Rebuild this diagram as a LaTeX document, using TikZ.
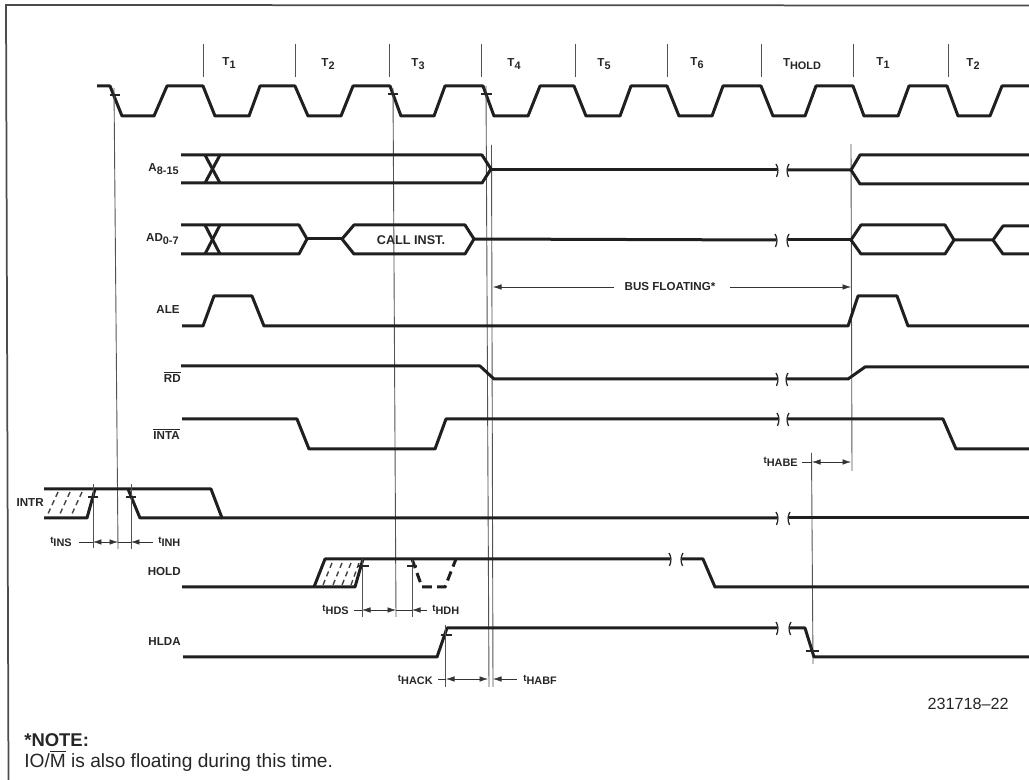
\documentclass[tikz,border=0pt]{standalone}
\usepackage{fontspec}
\setmainfont{Liberation Sans}
\usetikzlibrary{arrows.meta}
\def\breakmark(#1,#2){\draw[sigthin] (#1+1,#2-6) .. controls (#1-1.5,#2-2) and (#1-1.5,#2+2) .. (#1+0.5,#2+7);}
\def\breakleft(#1,#2){\draw[sigthin] (#1-1,#2-6) .. controls (#1+1.5,#2-2) and (#1+1.5,#2+2) .. (#1-0.5,#2+7);}
\def\lbsub#1#2{#1\raisebox{-1.6pt}{\fontsize{6.2}{7}\selectfont #2}}
\tikzset{
	sig/.style={line width=0.6mm, color=black!88, line join=round},
	sigdash/.style={line width=0.6mm, color=black!88, dash pattern=on 5.5pt off 3pt},
	sigthin/.style={line width=0.25mm, color=black!85},
	vline/.style={line width=0.18mm, color=black!68},
	hatch/.style={line width=0.28mm, color=black!75, dash pattern=on 3pt off 2.2pt},
	dim/.style={line width=0.12mm, color=black!80, {Latex[length=1.7mm,width=1.1mm]}-{Latex[length=1.7mm,width=1.1mm]}},
	dimin/.style={line width=0.12mm, color=black!80, -{Latex[length=1.7mm,width=1.1mm]}},
	dimline/.style={line width=0.12mm, color=black!80},
	lab/.style={inner sep=0pt, font=\bfseries\fontsize{6.6}{8}\selectfont, color=black!85},
	note/.style={inner sep=0pt, anchor=west, color=black!85}
}
\begin{document}
\begin{tikzpicture}[x=0.02cm, y=-0.02cm]
			%%%%% START %%%%%
			\useasboundingbox (0, 0) rectangle (1029, 780);
			
			\draw[line width=0.35mm, color=black!70] (1029, 5.5) -- (6, 5) -- (8.5, 780);
			
			\draw[vline] (203, 44) -- (203, 77);
			\draw[vline] (295, 44) -- (295, 77);
			\draw[vline] (389, 44) -- (389, 77);
			\draw[vline] (481, 44) -- (481, 77);
			\draw[vline] (575, 44) -- (575, 77);
			\draw[vline] (667, 44) -- (667, 77);
			\draw[vline] (761, 44) -- (761, 77);
			\draw[vline] (853, 44) -- (853, 77);
			\draw[vline] (948, 44) -- (948, 77);
			
			\node[lab] (tone) at (229, 63) {\lbsub{T}{1}};
			\node[lab] (ttwo) at (328, 64) {\lbsub{T}{2}};
			\node[lab] (tthree) at (418, 64) {\lbsub{T}{3}};
			\node[lab] (tfour) at (514, 64) {\lbsub{T}{4}};
			\node[lab] (tfive) at (604, 64) {\lbsub{T}{5}};
			\node[lab] (tsix) at (697, 63) {\lbsub{T}{6}};
			\node[lab] (thold) at (802, 64) {\lbsub{T}{HOLD}};
			\node[lab] (toneb) at (883, 63) {\lbsub{T}{1}};
			\node[lab] (ttwob) at (973, 64) {\lbsub{T}{2}};
			
			% clock
			\draw[sig] (97, 86) -- (110, 86) -- (122, 116) -- (154, 116) -- (167, 86) -- (203, 86) -- (215, 116) -- (249, 116) -- (260, 86)
				-- (295, 86) -- (308, 116) -- (341, 116) -- (353, 86) -- (390, 86) -- (401, 116) -- (434, 116) -- (445, 86)
				-- (483, 86) -- (494, 116) -- (528, 116) -- (540, 86) -- (574, 86) -- (586, 116) -- (620, 116) -- (631, 86)
				-- (667, 86) -- (679, 116) -- (712, 116) -- (723, 86) -- (761, 86) -- (773, 116) -- (805, 116) -- (816, 86)
				-- (853, 86) -- (864, 116) -- (898, 116) -- (909, 86) -- (947, 86) -- (958, 116) -- (990, 116) -- (1002, 86) -- (1029, 86);
			
			% timing references
			\draw[vline] (114, 88) -- (118, 549);
			\draw[sigthin] (110, 95) -- (120, 95);
			\draw[vline] (393, 88) -- (396, 617);
			\draw[sigthin] (388, 94) -- (398, 94);
			\draw[vline] (486, 86) -- (489, 687);
			\draw[sigthin] (481, 94) -- (492, 94);
			\draw[vline] (491.5, 145) -- (493, 687);
			\draw[vline] (851, 144) -- (852, 471);
			\draw[vline] (811.5, 453) -- (813, 664);
			
			% A8-15
			\node[lab, anchor=east] (addrhi) at (179, 169) {\lbsub{A}{8-15}};
			\draw[sig] (181, 155) -- (482, 155) -- (491, 169) -- (482, 183) -- (181, 183);
			\draw[sig] (205, 155) -- (220, 183);
			\draw[sig] (220, 155) -- (205, 183);
			\draw[sig] (491, 170) -- (777, 170);
			\breakleft(777, 170)
			\breakmark(788, 170)
			\draw[sig] (788, 170) -- (851, 170) -- (860, 155) -- (1029, 155);
			\draw[sig] (851, 170) -- (860, 184) -- (1029, 184);
			
			% AD0-7
			\node[lab, anchor=east] (addrlo) at (179, 239) {\lbsub{AD}{0-7}};
			\draw[sig] (181, 225) -- (299, 225) -- (307, 239) -- (299, 254) -- (181, 254);
			\draw[sig] (205, 225) -- (220, 254);
			\draw[sig] (220, 225) -- (205, 254);
			\draw[sig] (307, 239) -- (342, 239);
			\draw[sig] (342, 239) -- (354, 225) -- (465, 225) -- (474, 239) -- (465, 254) -- (354, 254) -- cycle;
			\draw[sig] (474, 239) -- (776, 240);
			\breakleft(776, 240)
			\breakmark(788, 240)
			\draw[sig] (788, 240) -- (851, 240);
			\draw[sig] (851, 240) -- (861, 225) -- (945, 225) -- (954, 240) -- (945, 254) -- (861, 254) -- cycle;
			\draw[sig] (954, 240) -- (993, 240) -- (1003, 226) -- (1029, 226);
			\draw[sig] (993, 240) -- (1003, 254) -- (1029, 254);
			\node[lab, font=\bfseries\fontsize{7.2}{8}\selectfont] (callinst) at (411, 240) {CALL INST.};
			
			% bus floating
			\node[lab] (busfloat) at (670, 287) {BUS FLOATING*};
			\coordinate (busleft) at (493, 287);
			\coordinate (busright) at (851, 287);
			\draw[dimin] (busfloat.west) ++(-10, 0) -- (busleft);
			\draw[dimin] (busfloat.east) ++(14, 0) -- (busright);
			
			% ALE
			\node[lab, anchor=east] (ale) at (180, 310) {ALE};
			\draw[sig] (182, 326) -- (203, 326) -- (214, 296) -- (252, 296) -- (264, 326) -- (848, 326) -- (858, 296) -- (897, 296) -- (908, 326) -- (1029, 326);
			
			% RD
			\node[lab, anchor=east] (rd) at (181, 377) {$\overline{\mbox{RD}}$};
			\draw[sig] (181, 366) -- (480, 366) -- (494, 379) -- (777, 379);
			\breakleft(777, 379)
			\breakmark(787, 379)
			\draw[sig] (787, 379) -- (848, 379) -- (865, 367) -- (1029, 367);
			
			% INTA
			\node[lab, anchor=east] (inta) at (180, 434) {$\overline{\mbox{INTA}}$};
			\draw[sig] (182, 419) -- (297, 419) -- (309, 449) -- (435, 449) -- (446, 419) -- (778, 419);
			\breakleft(778, 419)
			\breakmark(788, 419)
			\draw[sig] (788, 419) -- (943, 419) -- (956, 449) -- (1029, 449);
			
			% tHABE
			\node[lab, anchor=east] (thabe) at (798, 462) {\lbsub{\fontsize{5.5}{6}\selectfont t}{HABE}};
			\draw[dimline] (thabe.east) ++(4, 0) -- (812, 462);
			\draw[dim] (812, 462) -- (851, 462);
			
			% INTR
			\node[lab, anchor=east] (intr) at (44, 503) {INTR};
			\draw[sig] (44, 489) -- (211, 489) -- (222, 518) -- (777, 518);
			\draw[sig] (44, 518) -- (87, 518) -- (95, 489);
			\draw[sig] (128, 489) -- (140, 518) -- (222, 518);
			\breakleft(777, 518)
			\breakmark(789, 518)
			\draw[sig] (789, 518) -- (1029, 518);
			\draw[hatch] (58, 492) -- (47, 516);
			\draw[hatch] (70, 492) -- (59, 516);
			\draw[hatch] (82, 492) -- (71, 516);
			
			\draw[vline] (93, 484) -- (93, 548);
			\draw[vline] (131, 484) -- (131, 549);
			\draw[sigthin] (88, 497) -- (98, 497);
			\draw[sigthin] (126, 497) -- (136, 497);
			\node[lab, anchor=east] (tins) at (72, 542) {\lbsub{\fontsize{5.5}{6}\selectfont t}{INS}};
			\node[lab, anchor=west] (tinh) at (158, 542) {\lbsub{\fontsize{5.5}{6}\selectfont t}{INH}};
			\draw[dimline] (tins.east) ++(7, 0) -- (93, 542);
			\draw[dim] (93, 542) -- (118, 542);
			\draw[dimline] (118, 542) -- (131, 542);
			\draw[dimin] (tinh.west) ++(-5, 0) -- (131, 542);
			
			% HOLD
			\node[lab, anchor=east] (hold) at (181, 572) {HOLD};
			\draw[sig] (182, 587) -- (355, 587) -- (363, 559);
			\draw[sig] (314, 587) -- (325, 559) -- (670, 559);
			\breakleft(670, 559)
			\breakmark(682, 559)
			\draw[sig] (682, 559) -- (703, 559) -- (715, 587) -- (1029, 587);
			\draw[sigdash] (412, 559) -- (422, 587) -- (445, 587) -- (456, 559);
			\draw[hatch] (332, 563) -- (323, 585);
			\draw[hatch] (342, 563) -- (333, 585);
			\draw[hatch] (351, 563) -- (342, 585);
			\draw[hatch] (359, 563) -- (351, 585);
			
			\draw[vline] (362, 559) -- (362, 617);
			\draw[vline] (412, 560) -- (412, 617);
			\draw[sigthin] (358, 566) -- (369, 566);
			\draw[sigthin] (407, 566) -- (417, 566);
			\node[lab, anchor=east] (thds) at (349, 610) {\lbsub{\fontsize{5.5}{6}\selectfont t}{HDS}};
			\node[lab, anchor=west] (thdh) at (432, 610) {\lbsub{\fontsize{5.5}{6}\selectfont t}{HDH}};
			\draw[dimline] (thds.east) ++(5, 0) -- (362, 610);
			\draw[dim] (362, 610) -- (396, 610);
			\draw[dimline] (396, 610) -- (412, 610);
			\draw[dimin] (thdh.west) ++(-5, 0) -- (412, 610);
			
			% HLDA
			\node[lab, anchor=east] (hlda) at (181, 642) {HLDA};
			\draw[sig] (183, 657) -- (437, 657) -- (447, 628) -- (777, 628);
			\breakleft(777, 628)
			\breakmark(790, 628)
			\draw[sig] (790, 628) -- (805, 628) -- (814, 657) -- (1029, 657);
			\draw[sigthin] (441, 635) -- (452, 635);
			\draw[sigthin] (806, 651) -- (819, 651);
			
			\draw[vline] (445.5, 625) -- (445.5, 687);
			\node[lab, anchor=east] (thack) at (433, 680) {\lbsub{\fontsize{5.5}{6}\selectfont t}{HACK}};
			\node[lab, anchor=west] (thabf) at (523, 680) {\lbsub{\fontsize{5.5}{6}\selectfont t}{HABF}};
			\draw[dimline] (thack.east) ++(5, -1) -- (446, 679);
			\draw[dim] (446, 679) -- (488, 679);
			\draw[dimin] (thabf.west) ++(-6, -1) -- (493, 679);
			
			% footer
			\node[inner sep=0pt, anchor=east, color=black!85, font=\fontsize{9.2}{10}\selectfont] (partno) at (1009, 704) {231718--22};
			\node[note, font=\bfseries\fontsize{10.5}{12}\selectfont] (notehead) at (24, 740) {*NOTE:};
			\node[note, font=\fontsize{10.9}{12}\selectfont] (notetext) at (24, 761) {IO/$\overline{\mbox{M}}$ is also floating during this time.};
			
			%%%%% END %%%%%
		\end{tikzpicture}
\end{document}
